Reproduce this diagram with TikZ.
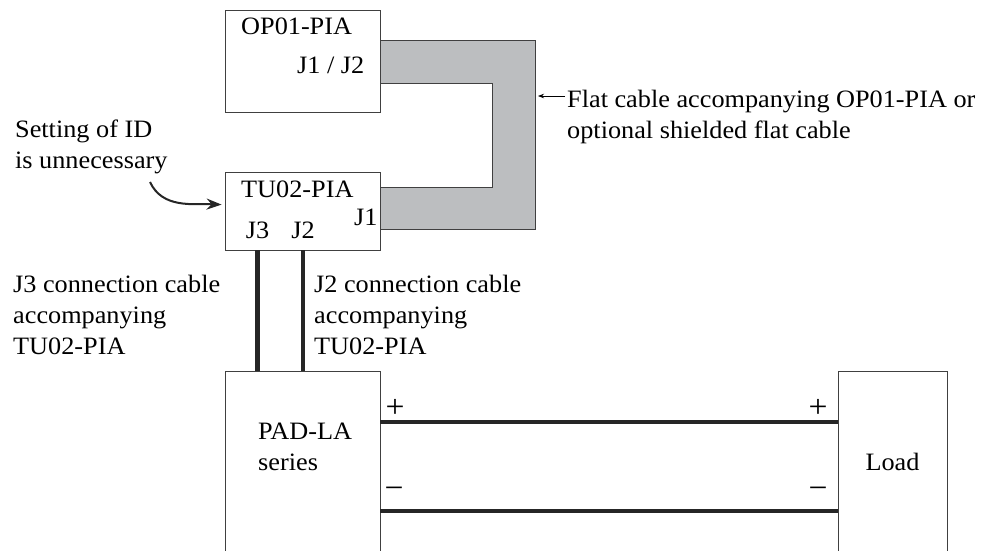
\documentclass[tikz,border=0pt]{standalone}
\usepackage{fontspec}
\setmainfont{Liberation Serif}[FakeStretch=1.05]
\usetikzlibrary{positioning,arrows.meta,calc}
\definecolor{cablegray}{RGB}{188,190,192}

\begin{document}
\begin{tikzpicture}[
    x=1pt, y=-1pt,
    font=\fontsize{25}{31}\selectfont,
    box/.style={draw=black!75, line width=0.8pt, fill=white, inner sep=0pt},
    lbl/.style={anchor=base west, inner sep=0pt, align=left},
    pin/.style={anchor=base, inner sep=0pt},
    sign/.style={inner sep=0pt, font=\fontsize{32}{32}\selectfont},
    wire/.style={line width=4.5pt, black!85},
    curl/.style={-{Stealth[length=15pt,width=11pt]}, line width=2pt, black!85},
    flatarr/.style={-{Stealth[length=6pt,width=4.5pt]}, line width=0.7pt},
  ]
  \useasboundingbox (0,0) rectangle (992,550);
  \clip (0,0) rectangle (992,550);

  % flat cable between the two units
  \fill[cablegray] (380,40) -- (535,40) -- (535,229) -- (380,229) -- (380,187)
    -- (492,187) -- (492,83) -- (380,83) -- cycle;
  \draw[black!75, line width=0.8pt] (380,40) -| (535,229) -- (380,229);
  \draw[black!75, line width=0.8pt] (380,83) -| (492,187) -- (380,187);

  % units
  \node[box, minimum width=155pt, minimum height=102pt] (op) at (302.5,61) {};
  \node[box, minimum width=155pt, minimum height=78pt] (tu) at (302.5,211) {};
  \node[box, minimum width=155pt, minimum height=200pt] (pad) at (302.5,471) {};
  \node[box, minimum width=109pt, minimum height=200pt] (load) at (892.5,471) {};

  \node[lbl] (opname) at (241,34) {OP01-PIA};
  \node[lbl] (opj) at (297,73) {J1 / J2};
  \node[lbl] (tuname) at (241,197) {TU02-PIA};
  \node[lbl] (tuj1) at (354,225) {J1};
  \node[pin] (tuj3) at (257.5,238) {J3};
  \node[pin] (tuj2) at (303,238) {J2};
  \node[lbl] (padname) at (258,470) {PAD-LA\\series};
  \node[pin] (loadname) at (892.5,470) {Load};

  % output terminals
  \node[sign] (padplus) at (395,408) {+};
  \node[sign] (padminus) at (394,493) {−};
  \node[sign] (loadplus) at (818,408) {+};
  \node[sign] (loadminus) at (818,493) {−};

  % cables
  \coordinate (plusy) at (0,422);
  \coordinate (minusy) at (0,511);
  \draw[wire] (pad.east |- plusy) -- (load.west |- plusy);
  \draw[wire] (pad.east |- minusy) -- (load.west |- minusy);
  \draw[wire] (tu.south -| tuj3) -- (pad.north -| tuj3);
  \draw[wire] (tu.south -| tuj2) -- (pad.north -| tuj2);

  % notes
  \node[lbl] (j3note) at (13,354) {J3 connection cable\\accompanying\\TU02-PIA};
  \node[lbl] (j2note) at (314,354) {J2 connection cable\\accompanying\\TU02-PIA};
  \node[lbl] (idnote) at (15,168) {Setting of ID\\is unnecessary};
  \node[lbl] (flatnote) at (567,138)
    {Flat cable accompanying OP01-PIA or\\optional shielded flat cable};

  \coordinate (idtail) at (150,182);
  \draw[curl] (idtail) to[out=-65,in=178] ($(tu.north west)+(-3,33)$);
  \coordinate (flattail) at (565,96);
  \draw[flatarr] (flattail) -- ++(-27,0);
\end{tikzpicture}
\end{document}
